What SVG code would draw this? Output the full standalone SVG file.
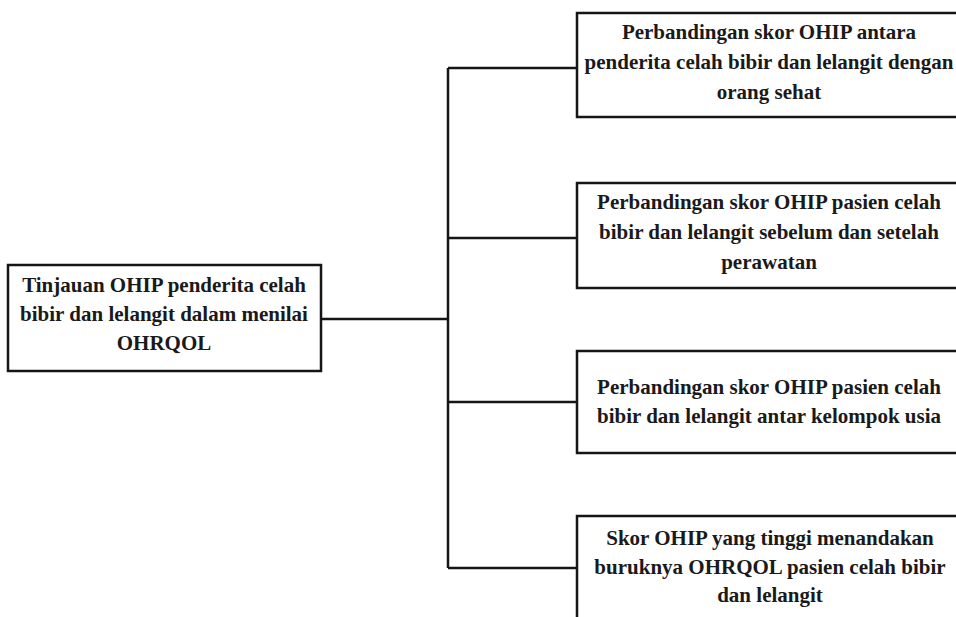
<svg xmlns="http://www.w3.org/2000/svg" width="956" height="617" viewBox="0 0 956 617">
<style>
.box{fill:#ffffff;stroke:#151515;stroke-width:2.5}
.lbl{font-family:"Liberation Serif","Times New Roman",serif;font-weight:bold;font-size:21px;fill:#1a1a1a;text-anchor:middle}
.conn{fill:none;stroke:#151515;stroke-width:2.5}
</style>
<rect width="956" height="617" fill="#ffffff"/>
<g id="connectors">
<path class="conn" d="M321,319 H448"/>
<path class="conn" d="M448,68 V568"/>
<path class="conn" d="M448,68 H577"/>
<path class="conn" d="M448,238 H577"/>
<path class="conn" d="M448,402 H577"/>
<path class="conn" d="M448,568 H577"/>
</g>
<g id="root">
<rect class="box" x="8" y="265" width="313" height="106"/>
<text class="lbl" x="164" y="292">Tinjauan OHIP penderita celah</text>
<text class="lbl" x="164" y="321">bibir dan lelangit dalam menilai</text>
<text class="lbl" x="164" y="350">OHRQOL</text>
</g>
<g id="n1">
<rect class="box" x="577" y="13" width="390" height="104"/>
<text class="lbl" x="769" y="39">Perbandingan skor OHIP antara</text>
<text class="lbl" x="769" y="69">penderita celah bibir dan lelangit dengan</text>
<text class="lbl" x="769" y="99">orang sehat</text>
</g>
<g id="n2">
<rect class="box" x="577" y="183" width="390" height="105"/>
<text class="lbl" x="769" y="209">Perbandingan skor OHIP pasien celah</text>
<text class="lbl" x="769" y="239">bibir dan lelangit sebelum dan setelah</text>
<text class="lbl" x="769" y="269">perawatan</text>
</g>
<g id="n3">
<rect class="box" x="577" y="351" width="390" height="102"/>
<text class="lbl" x="769" y="394">Perbandingan skor OHIP pasien celah</text>
<text class="lbl" x="769" y="423">bibir dan lelangit antar kelompok usia</text>
</g>
<g id="n4">
<rect class="box" x="577" y="516" width="390" height="120"/>
<text class="lbl" x="770" y="545">Skor OHIP yang tinggi menandakan</text>
<text class="lbl" x="770" y="574">buruknya OHRQOL pasien celah bibir</text>
<text class="lbl" x="770" y="602">dan lelangit</text>
</g>
</svg>
